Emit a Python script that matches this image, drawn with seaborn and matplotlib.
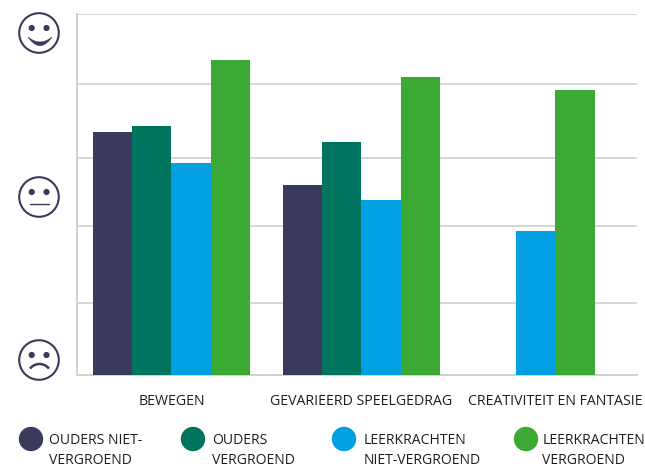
import numpy as np
import pandas as pd
import matplotlib
matplotlib.use('Agg')
import matplotlib.pyplot as plt
from matplotlib.patches import Circle, Arc
import seaborn as sns

categories = ['BEWEGEN', 'GEVARIEERD SPEELGEDRAG', 'CREATIVITEIT EN FANTASIE']
series = ['OUDERS NIET-\nVERGROEND', 'OUDERS\nVERGROEND', 'LEERKRACHTEN\nNIET-VERGROEND', 'LEERKRACHTEN\nVERGROEND']
colors = ['#3a3b5c', '#00745f', '#00a0e3', '#3aaa35']

ouders_niet = [3.36, 2.62]
ouders_groen = [3.44, 3.22]
leerkrachten_niet = [2.93, 2.42, 1.99]
leerkrachten_groen = [4.36, 4.12, 3.94]
grid_levels = [0.99, 2.06, 3.0, 4.02, 5.0]

group_pos = [0, 1, 2.021]

sns.set_theme(style='white')
plt.rcParams['font.family'] = ['Open Sans', 'DejaVu Sans']

# first two groups have four bars, the third only has two (centred on its label)
df_a = pd.DataFrame({
    'pos': group_pos[:2] * 4,
    'score': ouders_niet + ouders_groen + leerkrachten_niet[:2] + leerkrachten_groen[:2],
    'serie': [s for s in series for _ in range(2)],
})
df_b = pd.DataFrame({
    'pos': group_pos[2:] * 2,
    'score': leerkrachten_niet[2:] + leerkrachten_groen[2:],
    'serie': series[2:],
})

fig = plt.figure(figsize=(6.45, 4.66), dpi=100)
ax = fig.add_axes([77 / 645, 1 - 374.5 / 466, 560 / 645, 361 / 466])

sns.barplot(data=df_a, x='pos', y='score', hue='serie', hue_order=series, palette=colors,
            native_scale=True, width=0.826, saturation=1, legend=False, ax=ax, zorder=3, linewidth=0)
sns.barplot(data=df_b, x='pos', y='score', hue='serie', hue_order=series[2:], palette=colors[2:],
            native_scale=True, width=0.416, saturation=1, legend=False, ax=ax, zorder=3, linewidth=0)

ax.set_xlim(-0.497, 2.45)
ax.set_ylim(0, 5)
ax.set_xlabel('')
ax.set_ylabel('')
ax.set_yticks(grid_levels)
ax.set_yticklabels([])
ax.set_xticks(group_pos)
ax.set_xticklabels(categories, fontsize=10.2, color='#1d1d1b')
ax.tick_params(axis='both', length=0)
ax.tick_params(axis='x', pad=14)
ax.grid(axis='y', color='#cccccc', lw=1.1, zorder=0)
for side in ['top', 'right']:
    ax.spines[side].set_visible(False)
for side in ['left', 'bottom']:
    ax.spines[side].set_color('#d0d0d0')
    ax.spines[side].set_linewidth(1.4)

# overlay in pixel coordinates for the faces and the legend
over = fig.add_axes([0, 0, 1, 1], facecolor='none')
over.set_xlim(0, 645)
over.set_ylim(466, 0)
over.axis('off')

face = '#3a3b5c'
for cy in [33, 197, 360]:
    over.add_patch(Circle((39, cy), 19.8, fc='none', ec=face, lw=1.5))
    over.add_patch(Circle((31.7, cy - 5), 3.1, fc=face, ec='none'))
    over.add_patch(Circle((46.5, cy - 5), 3.1, fc=face, ec='none'))
# smile is a filled crescent
t = np.linspace(-1, 1, 40)
over.fill_between(39.5 + 11.5 * t, 37 + 4.5 * (1 - t**2), 37 + 8 * (1 - t**2), color=face, lw=0.5)
over.plot([30, 49], [204, 204], color=face, lw=1)
over.add_patch(Arc((39.5, 376), 24, 24, theta1=218, theta2=322, color=face, lw=1.8))

legend_x = [31, 193, 344, 526]
text_x = [49, 212, 364, 542.5]
for lx, tx, name, c in zip(legend_x, text_x, series, colors):
    over.add_patch(Circle((lx, 439), 12.2, fc=c, ec='none'))
    first, second = name.split('\n')
    over.text(tx, 440, first, fontsize=10.1, color='#1d1d1b', va='center', ha='left')
    over.text(tx, 460, second, fontsize=10.1, color='#1d1d1b', va='center', ha='left')

plt.savefig('out.png', dpi=100)
